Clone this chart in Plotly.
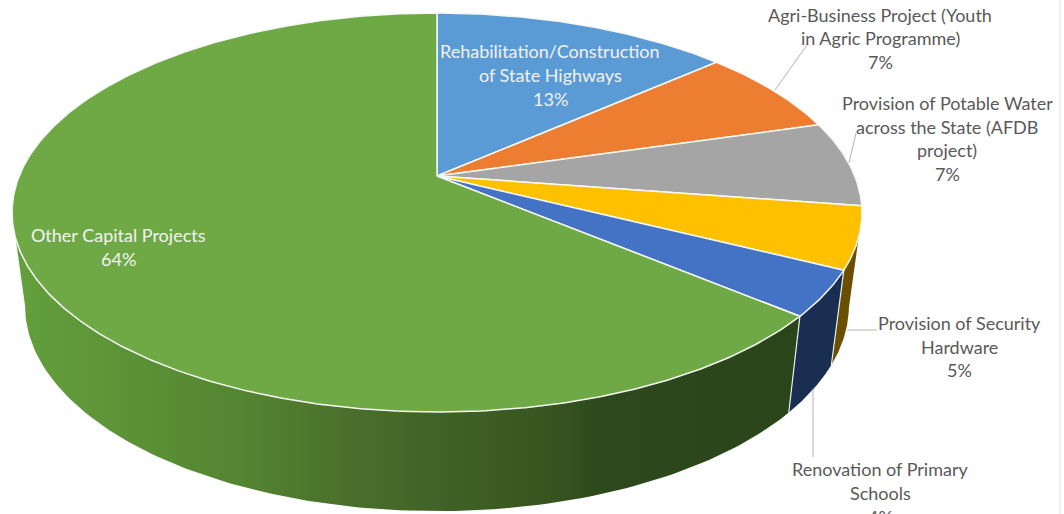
import numpy as np
import plotly.graph_objects as go

categories = ["Rehabilitation/Construction of State Highways",
              "Agri-Business Project (Youth in Agric Programme)",
              "Provision of Potable Water across the State (AFDB project)",
              "Provision of Security Hardware",
              "Renovation of Primary Schools",
              "Other Capital Projects"]
values = [13.49, 7.01, 6.9, 5.0, 3.7, 63.9]
top_colors = ["#5b9bd5", "#ed7d31", "#a5a5a5", "#ffc000", "#4472c4", "#6fa946"]
label_lines = [
    ["Rehabilitation/Construction", "of State Highways"],
    ["Agri-Business Project (Youth", "in Agric Programme)"],
    ["Provision of Potable Water", "across the State (AFDB", "project)"],
    ["Provision of Security", "Hardware"],
    ["Renovation of Primary", "Schools"],
    ["Other Capital Projects"],
]
label_x = [550, 880, 947, 959, 880, 118]
label_y = [51, 15, 103, 323, 469, 235]
label_step = [24, 23.5, 23.7, 23.5, 24, 24]
label_color = ["#f2f2f2", "#595959", "#595959", "#595959", "#595959", "#f2f2f2"]
leaders = [((775, 90), (807, 45)), ((849, 163), (856, 133)),
           ((847, 330), (877, 330)), ((813, 389), (813, 457))]

# perspective model of the tilted pie
CX, CY, A, B, K = 437, 176, 417.8, 192.8, 0.183
CX2, CY2, A2, B2 = 437, 268, 405.0, 198.6
HEIGHT = 514


def rim(theta_deg, bottom=False):
    t = np.radians(theta_deg)
    w = 1 + K * np.cos(t)
    if bottom:
        return CX2 + A2 * np.sin(t) / w, CY2 - B2 * np.cos(t) / w
    return CX + A * np.sin(t) / w, CY - B * np.cos(t) / w


edges = np.cumsum([0] + values) / sum(values) * 360
fig = go.Figure()


def wall(t0, t1, color=None, gradient=None):
    ts = np.linspace(t0, t1, 120)
    x1, y1 = rim(ts)
    x2, y2 = rim(ts[::-1], bottom=True)
    x = np.concatenate([x1, x2, x1[:1]])
    y = np.concatenate([y1, y2, y1[:1]])
    kw = dict(fillgradient=gradient) if gradient else dict(fillcolor=color)
    fig.add_trace(go.Scatter(x=x, y=y, mode="lines", fill="toself", line=dict(width=0, color="rgba(0,0,0,0)"),
                             hoverinfo="skip", **kw))


# visible side walls
wall(101, edges[4], color="#6b4f00")
wall(edges[4], edges[5], color="#1a2e52")
wall(edges[5], 259.5, gradient=dict(type="horizontal", colorscale=[
    [0, "#64a03c"], [0.29, "#548531"], [0.42, "#4b702c"], [0.55, "#406226"],
    [0.69, "#36541f"], [0.75, "#2d481c"], [1, "#2b451a"]]))

# separators on the wall
for e in (edges[4], edges[5]):
    xa, ya = rim(e)
    xb, yb = rim(e, bottom=True)
    fig.add_trace(go.Scatter(x=[xa, xb], y=[ya, yb], mode="lines",
                             line=dict(color="#e8ecef", width=1.2), hoverinfo="skip"))

# top slices
for i, c in enumerate(top_colors):
    ts = np.linspace(edges[i], edges[i + 1], max(int(edges[i + 1] - edges[i]) * 2, 8))
    x, y = rim(ts)
    x = np.concatenate([[CX], x, [CX]])
    y = np.concatenate([[CY], y, [CY]])
    fig.add_trace(go.Scatter(x=x, y=y, mode="lines", fill="toself", fillcolor=c,
                             line=dict(color="#f6f8f6", width=1.5), hoverinfo="skip", name=categories[i]))

# leader lines
for (p, q) in leaders:
    fig.add_trace(go.Scatter(x=[p[0], q[0]], y=[p[1], q[1]], mode="lines",
                             line=dict(color="#b3b3b3", width=1), hoverinfo="skip"))

# right border of the picture
fig.add_shape(type="line", x0=1060, x1=1060, y0=0, y1=514, line=dict(color="#e4e4e4", width=1))

# labels (paper coordinates, so a row running off the bottom edge is cut rather than dropped)
for i, lines in enumerate(label_lines):
    rows = lines + [f"{round(values[i])}%"]
    for j, txt in enumerate(rows):
        fig.add_annotation(xref="x", yref="paper", x=label_x[i],
                           y=1 - (label_y[i] + j * label_step[i]) / HEIGHT,
                           text=txt, showarrow=False, xanchor="center", yanchor="middle",
                           font=dict(family="Lato", size=18, color=label_color[i]))

fig.update_layout(width=1064, height=HEIGHT, margin=dict(l=0, r=0, t=0, b=0), showlegend=False,
                  paper_bgcolor="white", plot_bgcolor="white",
                  xaxis=dict(range=[0, 1064], visible=False, fixedrange=True),
                  yaxis=dict(range=[HEIGHT, 0], visible=False, fixedrange=True))

fig.write_html("out.html", config=dict(displayModeBar=False),
               post_script="document.body.style.margin='0';document.documentElement.style.overflow='hidden';")
